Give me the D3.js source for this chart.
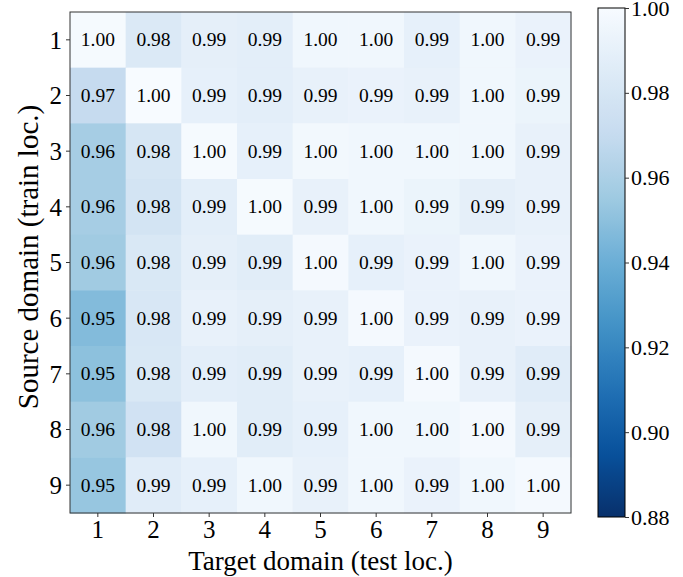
<!DOCTYPE html>
<html>
<head>
<meta charset="utf-8">
<script src="https://cdn.jsdelivr.net/npm/d3@7"></script>
<style>
  body { margin: 0; background: #fff; }
  text { font-family: "Liberation Serif", "DejaVu Serif", serif; fill: #000; }
</style>
</head>
<body>
<div id="chart"></div>
<script>
// Source (rows) x target (cols) accuracy
const sources = ['1', '2', '3', '4', '5', '6', '7', '8', '9'];
const targets = ['1', '2', '3', '4', '5', '6', '7', '8', '9'];
const values = [
  [0.999, 0.983, 0.989, 0.988, 0.996, 0.996, 0.990, 0.996, 0.992],
  [0.970, 1.000, 0.990, 0.988, 0.991, 0.992, 0.991, 0.996, 0.993],
  [0.958, 0.980, 0.999, 0.990, 0.997, 0.996, 0.996, 0.996, 0.991],
  [0.958, 0.978, 0.988, 0.999, 0.991, 0.996, 0.993, 0.989, 0.991],
  [0.956, 0.982, 0.989, 0.987, 0.998, 0.990, 0.992, 0.996, 0.992],
  [0.947, 0.981, 0.991, 0.989, 0.991, 0.998, 0.992, 0.991, 0.992],
  [0.950, 0.982, 0.988, 0.987, 0.991, 0.990, 0.998, 0.991, 0.986],
  [0.956, 0.977, 0.996, 0.987, 0.990, 0.996, 0.996, 0.998, 0.989],
  [0.953, 0.986, 0.990, 0.996, 0.991, 0.996, 0.992, 0.996, 0.998]
];
const cbarTicks = [0.88, 0.90, 0.92, 0.94, 0.96, 0.98, 1.00];
const vmin = 0.88, vmax = 1.00;

// matplotlib "Blues_r"
const blues = ['#f7fbff', '#deebf7', '#c6dbef', '#9ecae1', '#6baed6',
               '#4292c6', '#2171b5', '#08519c', '#08306b'];

const width = 683, height = 577;
const plot = { left: 70, top: 12, size: 501 };
const cbar = { x: 598, w: 27, top: 8, bottom: 517 };

const svg = d3.select('#chart').append('svg')
  .attr('width', width).attr('height', height);

const x = d3.scaleBand().domain(targets).range([plot.left, plot.left + plot.size]);
const y = d3.scaleBand().domain(sources).range([plot.top, plot.top + plot.size]);

const color = d3.scaleLinear()
  .domain(d3.range(blues.length).map(i => vmax - i * (vmax - vmin) / (blues.length - 1)))
  .range(blues)
  .clamp(true);

const fmt = d3.format('.2f');

const cells = [];
values.forEach((row, i) => row.forEach((v, j) => cells.push({ s: sources[i], t: targets[j], v })));

svg.append('g').selectAll('rect')
  .data(cells).join('rect')
  .attr('x', d => x(d.t)).attr('y', d => y(d.s))
  .attr('width', x.bandwidth() + 0.5).attr('height', y.bandwidth() + 0.5)
  .attr('fill', d => color(d.v));

svg.append('g').selectAll('text')
  .data(cells).join('text')
  .attr('x', d => x(d.t) + x.bandwidth() / 2)
  .attr('y', d => y(d.s) + y.bandwidth() / 2)
  .attr('text-anchor', 'middle')
  .attr('dominant-baseline', 'central')
  .attr('font-size', '19.5px')
  .text(d => fmt(d.v));

// frame
svg.append('rect')
  .attr('x', plot.left).attr('y', plot.top)
  .attr('width', plot.size).attr('height', plot.size)
  .attr('fill', 'none').attr('stroke', '#333').attr('stroke-width', 1);

// axes
const xAxis = svg.append('g')
  .attr('transform', `translate(0,${plot.top + plot.size})`)
  .call(d3.axisBottom(x).tickSize(4).tickPadding(3));
const yAxis = svg.append('g')
  .attr('transform', `translate(${plot.left},0)`)
  .call(d3.axisLeft(y).tickSize(4).tickPadding(4));
[xAxis, yAxis].forEach(g => {
  g.select('.domain').remove();
  g.selectAll('.tick line').attr('stroke', '#333');
  g.selectAll('.tick text').attr('font-size', '25px')
    .attr('font-family', '"Liberation Serif", serif').attr('fill', '#000');
});
yAxis.selectAll('.tick text').attr('dy', '0.35em');

svg.append('text')
  .attr('x', plot.left + plot.size / 2).attr('y', 570)
  .attr('text-anchor', 'middle').attr('font-size', '27px')
  .text('Target domain (test loc.)');

svg.append('text')
  .attr('transform', `translate(28,257) rotate(-90)`)
  .attr('text-anchor', 'middle').attr('dominant-baseline', 'central')
  .attr('font-size', '29px')
  .text('Source domain (train loc.)');

// colorbar
const cy = d3.scaleLinear().domain([vmin, vmax]).range([cbar.bottom, cbar.top]);
const grad = svg.append('defs').append('linearGradient')
  .attr('id', 'cbar').attr('x1', 0).attr('y1', 1).attr('x2', 0).attr('y2', 0);
grad.selectAll('stop')
  .data(d3.range(0, 1.0001, 0.02)).join('stop')
  .attr('offset', d => d)
  .attr('stop-color', d => color(vmin + d * (vmax - vmin)));

svg.append('rect')
  .attr('x', cbar.x).attr('y', cbar.top)
  .attr('width', cbar.w).attr('height', cbar.bottom - cbar.top)
  .attr('fill', 'url(#cbar)')
  .attr('stroke', '#000').attr('stroke-width', 1);

const cAxis = svg.append('g')
  .attr('transform', `translate(${cbar.x + cbar.w},0)`)
  .call(d3.axisRight(cy).tickValues(cbarTicks).tickFormat(fmt).tickSize(4).tickPadding(2));
cAxis.select('.domain').remove();
cAxis.selectAll('.tick line').attr('stroke', '#333');
cAxis.selectAll('.tick text').attr('font-size', '22px')
  .attr('font-family', '"Liberation Serif", serif').attr('fill', '#000');
</script>
</body>
</html>
